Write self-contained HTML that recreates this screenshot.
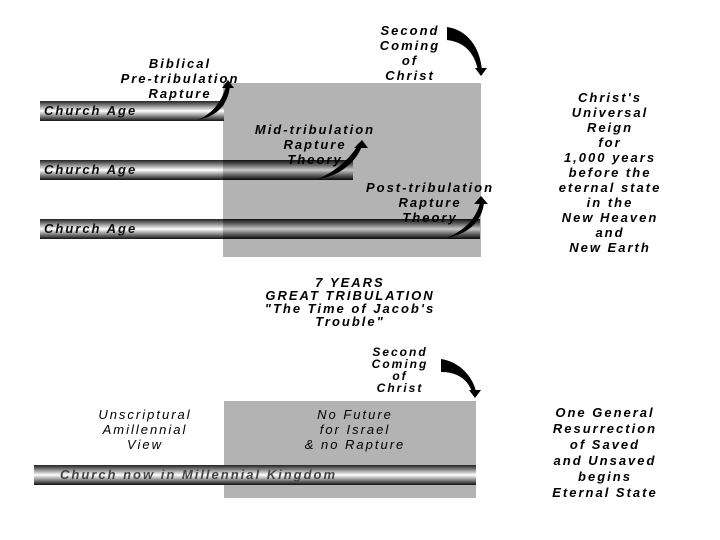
<!DOCTYPE html>
<html><head><style>
body{margin:0;width:720px;height:540px;background:#fff;position:relative;overflow:hidden;font-family:"Liberation Sans",sans-serif;}
.t{position:absolute;font-weight:bold;font-style:italic;font-size:13px;letter-spacing:2px;line-height:15px;text-align:center;color:#000;white-space:nowrap}
.g{position:absolute;background:#b3b3b3}
.bar{position:absolute;height:20px;background:linear-gradient(#222 0%,#777 20%,#fff 50%,#888 75%,#111 100%);font-weight:bold;font-style:italic;font-size:13px;letter-spacing:2px;line-height:20px;padding-left:4px;box-sizing:border-box;color:#111}
.dk{position:absolute;height:20px;background:linear-gradient(#000 0%,#444 25%,#999 50%,#444 75%,#000 100%);opacity:.55}
</style></head><body>
<div class="g" style="left:223px;top:83px;width:258px;height:174px"></div>
<div class="g" style="left:224px;top:401px;width:252px;height:97px"></div>

<div class="bar" style="left:40px;top:101px;width:184px">Church Age</div>
<div class="bar" style="left:40px;top:160px;width:313px">Church Age</div>
<div class="dk" style="left:223px;top:160px;width:130px"></div>
<div class="bar" style="left:40px;top:219px;width:440px">Church Age</div>
<div class="dk" style="left:223px;top:219px;width:257px"></div>
<div class="bar" style="left:34px;top:465px;width:442px;padding-left:26px;color:#444">Church now in Millennial Kingdom</div>

<svg width="720" height="540" style="position:absolute;left:0;top:0">
<g fill="#000">
<path d="M198 120 C215 112 222 100 226 86 L230 86 C228 104 218 116 198 120Z"/><path d="M222 88 L228 80 L234 88Z"/>
<path d="M318 179 C338 170 350 158 358 145 L362 146 C356 162 340 176 318 179Z"/><path d="M354 148 L362 140 L368 148Z"/>
<path d="M446 238 C466 230 476 218 480 203 L484 203 C482 220 470 234 446 238Z"/><path d="M474 204 L481 196 L488 204Z"/>
<path d="M447 27 C468 30 480 48 482 70 L478 70 C474 52 464 42 447 40Z"/><path d="M475 68 L481 76 L487 68Z"/>
<path d="M441 359 C462 362 474 380 476 392 L472 392 C468 380 458 372 441 372Z"/><path d="M469 390 L475 398 L481 390Z"/>
</g></svg>

<div class="t" style="left:360px;top:23px;width:100px">Second<br>Coming<br>of<br>Christ</div>
<div class="t" style="left:90px;top:56px;width:180px">Biblical<br>Pre-tribulation<br>Rapture</div>
<div class="t" style="left:225px;top:122px;width:180px">Mid-tribulation<br>Rapture<br>Theory</div>
<div class="t" style="left:340px;top:180px;width:180px">Post-tribulation<br>Rapture<br>Theory</div>
<div class="t" style="left:515px;top:90px;width:190px">Christ's<br>Universal<br>Reign<br>for<br>1,000 years<br>before the<br>eternal state<br>in the<br>New Heaven<br>and<br>New Earth</div>
<div class="t" style="left:220px;top:276px;width:260px;line-height:13px">7 YEARS<br>GREAT TRIBULATION<br>"The Time of Jacob's<br>Trouble"</div>
<div class="t" style="left:350px;top:346px;width:100px;line-height:12px;font-size:12px">Second<br>Coming<br>of<br>Christ</div>
<div class="t" style="left:55px;top:407px;width:180px;font-weight:normal">Unscriptural<br>Amillennial<br>View</div>
<div class="t" style="left:255px;top:407px;width:200px;font-weight:normal">No Future<br>for Israel<br>&amp; no Rapture</div>
<div class="t" style="left:505px;top:405px;width:200px;line-height:16px">One General<br>Resurrection<br>of Saved<br>and Unsaved<br>begins<br>Eternal State</div>
</body></html>
